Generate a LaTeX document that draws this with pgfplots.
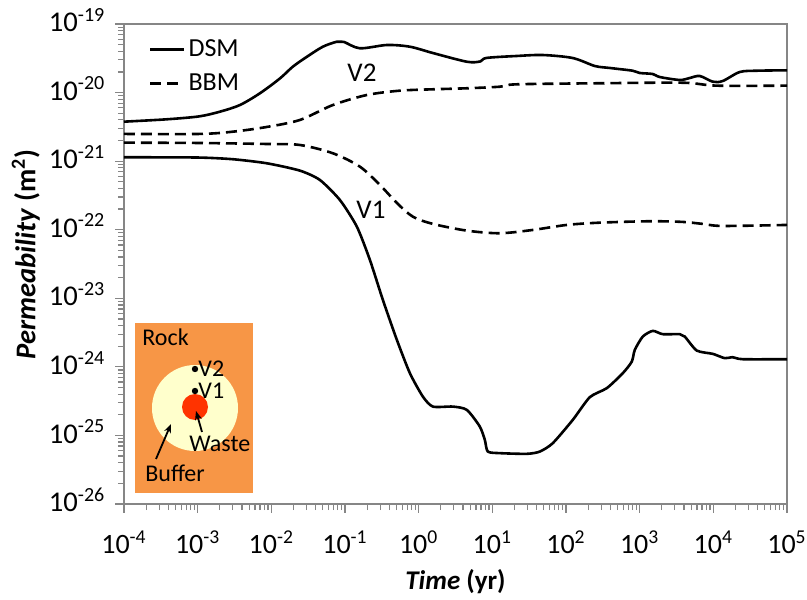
\documentclass[border=0pt]{standalone}
\usepackage{fontspec}
\setmainfont{Carlito}
\usepackage{pgfplots}
\pgfplotsset{compat=1.18}
\usetikzlibrary{arrows.meta}
\definecolor{axgray}{HTML}{868686}
\definecolor{rockC}{HTML}{F79646}
\definecolor{bufC}{HTML}{FFFFCC}
\definecolor{wasteC}{HTML}{FF3300}
\def\minorx{}
\foreach \e in {-4,...,4}{\foreach \m in {2,...,9}{\ifx\minorx\empty\xdef\minorx{\m e\e}\else\xdef\minorx{\minorx,\m e\e}\fi}}
\def\minory{}
\foreach \e in {-26,...,-20}{\foreach \m in {2,...,9}{\ifx\minory\empty\xdef\minory{\m e\e}\else\xdef\minory{\minory,\m e\e}\fi}}
\begin{document}
\begin{tikzpicture}
\begin{axis}[
  scale only axis, width=331.5pt, height=240pt,
  xmode=log, ymode=log,
  xmin=1e-4, xmax=1e5, ymin=1e-26, ymax=1e-19,
  axis line style={axgray, line width=0.7pt},
  tick style={axgray, line width=0.6pt},
  major tick length=4.3pt, minor tick length=3pt,
  tick align=outside,
  xtick pos=bottom, ytick pos=left,
  xtick={1e-4,1e-3,1e-2,1e-1,1,10,100,1000,10000,100000},
  xticklabels={10\textsuperscript{-4},10\textsuperscript{-3},10\textsuperscript{-2},10\textsuperscript{-1},10\textsuperscript{0},10\textsuperscript{1},10\textsuperscript{2},10\textsuperscript{3},10\textsuperscript{4},10\textsuperscript{5}},
  ytick={1e-26,1e-25,1e-24,1e-23,1e-22,1e-21,1e-20,1e-19},
  yticklabels={10\textsuperscript{-26},10\textsuperscript{-25},10\textsuperscript{-24},10\textsuperscript{-23},10\textsuperscript{-22},10\textsuperscript{-21},10\textsuperscript{-20},10\textsuperscript{-19}},
  minor xtick/.expanded=\minorx,
  minor ytick/.expanded=\minory,
  xticklabel style={font=\fontsize{14}{17}\selectfont, text=black, yshift=-5.5pt},
  yticklabel style={font=\fontsize{14.3}{17}\selectfont, text=black, yshift=2pt, xshift=-1.5pt},
  xlabel={\textbf{\textit{Time} (yr)}},
  ylabel={\textbf{\textit{Permeability} (m\textsuperscript{2})}},
  xlabel style={at={(axis description cs:0.5,-0.162)}, anchor=center, font=\fontsize{13.5}{16}\selectfont},
  ylabel style={at={(axis description cs:-0.148,0.52)}, anchor=center, font=\fontsize{14.3}{16}\selectfont},
  legend style={at={(rel axis cs:0.028,0.985)}, anchor=north west, draw=none, fill=none,
    font=\fontsize{13}{15}\selectfont, row sep=3pt, nodes={inner xsep=1.5pt}},
  legend image code/.code={\draw[#1] (0pt,0pt) -- (17pt,0pt);},
  legend cell align=left,
]
\addplot[black, line width=1.3pt, smooth, tension=0.5] coordinates {
(1e-4,3.767e-21)(3.83e-4,4.08e-21)(1.05e-3,4.5e-21)(2.01e-3,5.27e-21)(3.75e-3,6.59e-21)(7.0e-3,9.77e-21)(1.31e-2,1.61e-20)(1.96e-2,2.39e-20)(3.04e-2,3.33e-20)(5.01e-2,4.67e-20)(7.76e-2,5.52e-20)(9.6e-2,5.5e-20)(0.1592,4.426e-20)(0.3707,4.943e-20)(0.7603,4.667e-20)(1.560,3.776e-20)(4.508,2.818e-20)(6.9,2.85e-20)(8.3,3.2e-20)(21.48,3.420e-20)(48.42,3.532e-20)(123.6,3.192e-20)(246.0,2.443e-20)(392.6,2.286e-20)(805.4,2.084e-20)(1002,1.932e-20)(1507,1.866e-20)(1875,1.687e-20)(3499,1.528e-20)(4786,1.633e-20)(6546,1.746e-20)(9817,1.442e-20)(13430,1.476e-20)(22800,1.995e-20)(38820,2.084e-20)(1e5,2.113e-20)
};
\addlegendentry{DSM}
\addplot[black, line width=1.3pt, dash pattern=on 5.5pt off 3pt, smooth, tension=0.5] coordinates {
(1e-4,2.495e-21)(1.074e-3,2.495e-21)(3.013e-3,2.692e-21)(8.71e-3,3.155e-21)(2.443e-2,3.990e-21)(6.855e-2,6.592e-21)(0.1982,9.226e-21)(0.5559,1.067e-20)(1.560,1.117e-20)(4.508,1.156e-20)(12.65,1.219e-20)(21.48,1.321e-20)(287.7,1.368e-20)(3846,1.393e-20)(11120,1.262e-20)(1e5,1.262e-20)
};
\addlegendentry{BBM}
\addplot[black, line width=1.3pt, smooth, tension=0.4, forget plot] coordinates {
(1e-4,1.140e-21)(1e-3,1.13e-21)(3.013e-3,1.067e-21)(8.71e-3,9.311e-22)(2.443e-2,7.278e-22)(4.560e-2,5.321e-22)(8.531e-2,2.716e-22)(0.1449,1.109e-22)(0.2178,3.631e-23)(0.3266,9.484e-24)(0.5058,2.477e-24)(0.7603,8.091e-25)(1.140,3.690e-25)(1.560,2.636e-25)(2.911,2.636e-25)(4.508,2.360e-25)(6.761,1.349e-25)(7.907,8.630e-26)(8.690,5.821e-26)(12.65,5.521e-26)(29.38,5.395e-26)(44.16,5.821e-26)(66.22,7.727e-26)(123.6,1.687e-25)(210.4,3.614e-25)(358.1,4.898e-25)(590.2,8.091e-25)(781.6,1.194e-24)(859.0,1.770e-24)(1102,2.767e-24)(1507,3.350e-24)(2056,2.999e-24)(3499,2.999e-24)(4093,2.767e-24)(5957,1.730e-24)(9817,1.549e-24)(14290,1.340e-24)(18320,1.384e-24)(25060,1.294e-24)(1e5,1.294e-24)
};
\addplot[black, line width=1.3pt, dash pattern=on 5.5pt off 3pt, smooth, tension=0.5, forget plot] coordinates {
(1e-4,1.862e-21)(1.074e-3,1.841e-21)(8.71e-3,1.78e-21)(2.443e-2,1.722e-21)(6.855e-2,1.303e-21)(0.1592,8.318e-22)(0.2979,4.498e-22)(0.5058,2.460e-22)(0.8337,1.552e-22)(1.560,1.216e-22)(4.508,9.705e-23)(12.65,8.892e-23)(35.48,9.931e-23)(102.6,1.175e-22)(287.7,1.268e-22)(1371,1.330e-22)(3846,1.300e-22)(7178,1.216e-22)(13430,1.135e-22)(1e5,1.175e-22)
};
\node[font=\fontsize{13.5}{15}\selectfont] at (axis cs:0.17,1.93e-20) {V2};
\node[font=\fontsize{13.5}{15}\selectfont] at (axis cs:0.225,1.945e-22) {V1};
\end{axis}
\begin{scope}[shift={(current axis.north west)}, x=0.5pt, y=-0.5pt, shift={(-124,-24)}]
\fill[rockC] (135,323) rectangle (253,493);
\fill[bufC] (195,408) circle[radius=43];
\fill[wasteC] (195,407) circle[radius=13];
\fill[black] (195,369) circle[radius=3.2];
\fill[black] (195,391) circle[radius=3.2];
\begin{scope}[font=\fontsize{12}{14}\selectfont]
\node[anchor=west, inner sep=0] at (198,369) {V2};
\node[anchor=west, inner sep=0] at (198,391) {V1};
\node[anchor=west, inner sep=0] at (142,337) {Rock};
\node[anchor=west, inner sep=0] at (189,444) {Waste};
\node[anchor=west, inner sep=0] at (145,473) {Buffer};
\end{scope}
\draw[-{Stealth[length=4.5pt,width=3.5pt]}, line width=0.9pt] (202,432) -- (196,411);
\draw[-{Stealth[length=4.5pt,width=3.5pt]}, line width=0.9pt] (156,459) -- (171,424);
\pgfresetboundingbox
\useasboundingbox (0,0) rectangle (807,599);
\end{scope}
\end{tikzpicture}
\end{document}
